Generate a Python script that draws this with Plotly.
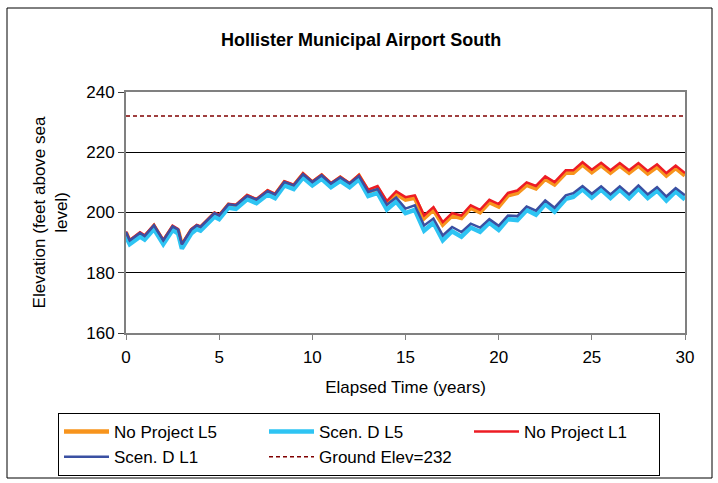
import plotly.graph_objects as go

# ---------------- data ----------------
time_years = [0, 0.2, 0.75, 1.0, 1.5, 2.0, 2.5, 2.8, 3.0, 3.5, 3.8, 4.0, 4.75,
              5.0, 5.5, 5.9, 6.5, 7.0, 7.6, 8.0, 8.5, 9.0, 9.5, 10.0, 10.5, 11.0, 11.5,
              12.0, 12.5, 13.0, 13.5, 14.0, 14.5, 15.0, 15.5, 16.0, 16.5, 17.0, 17.5,
              18.0, 18.5, 19.0, 19.5, 20.0, 20.5, 21.0, 21.5, 22.0, 22.5, 23.0,
              23.6, 24.0, 24.5, 25.0, 25.5, 26.0, 26.5, 27.0, 27.5, 28.0, 28.5, 29.0,
              29.5, 30.0]

no_project_l5 = [193.2, 190.3, 192.9, 191.8, 195.4, 190.3, 195.0, 193.9, 189.0, 194.0, 195.4, 194.9, 199.6,
                 198.7, 202.5, 202.1, 205.4, 204.0, 207.0, 205.8, 210.0, 208.8, 212.6, 209.9, 212.2, 209.3, 211.5,
                 209.3, 212.1, 206.9, 208.0, 203.0, 206.2, 204.3, 204.9, 198.2, 201.0, 196.0, 199.0,
                 198.2, 201.6, 200.1, 203.4, 202.0, 205.7, 206.5, 209.2, 208.0, 211.2, 209.3,
                 213.2, 213.2, 215.9, 213.4, 215.7, 213.2, 215.6, 213.2, 215.6, 213.0, 215.2, 212.3,
                 214.8, 212.3]

scen_d_l5 = [192.0, 189.5, 192.0, 191.0, 194.5, 189.5, 194.2, 193.0, 188.0, 193.0, 194.5, 194.0, 198.6,
             197.8, 201.6, 201.2, 204.4, 203.1, 206.0, 204.8, 209.0, 207.8, 211.6, 209.0, 211.2, 208.4, 210.5,
             208.4, 211.0, 205.5, 206.5, 201.0, 203.6, 199.8, 200.9, 194.0, 196.6, 190.8, 193.8,
             192.0, 195.0, 193.6, 196.6, 194.2, 197.8, 197.5, 200.8, 199.3, 202.8, 200.3,
             204.5, 205.2, 207.7, 205.0, 207.6, 204.8, 207.6, 204.8, 207.9, 204.8, 207.3, 204.0,
             207.0, 204.3]

no_project_l1 = [193.7, 190.9, 193.4, 192.4, 195.9, 190.9, 195.6, 194.5, 189.6, 194.5, 195.9, 195.4, 200.0,
                 199.2, 202.9, 202.6, 205.8, 204.5, 207.4, 206.2, 210.4, 209.2, 213.0, 210.3, 212.6, 209.8, 211.9,
                 209.8, 212.5, 207.6, 208.8, 203.8, 207.0, 205.1, 205.7, 199.0, 201.8, 196.8, 199.8,
                 199.0, 202.4, 200.9, 204.2, 202.8, 206.5, 207.3, 210.0, 208.8, 212.0, 210.1,
                 214.0, 214.0, 216.7, 214.2, 216.5, 214.0, 216.4, 214.0, 216.4, 213.8, 216.0, 213.1,
                 215.6, 213.1]

scen_d_l1 = [193.5, 190.7, 193.2, 192.2, 195.7, 190.7, 195.4, 194.3, 189.4, 194.3, 195.7, 195.2, 199.8,
             199.0, 202.7, 202.4, 205.5, 204.3, 207.1, 206.0, 210.1, 209.0, 212.7, 210.1, 212.3, 209.6, 211.6,
             209.6, 212.1, 206.8, 207.8, 202.6, 205.0, 201.3, 202.4, 195.7, 198.0, 192.4, 195.2,
             193.5, 196.3, 195.0, 197.8, 195.6, 199.0, 198.8, 202.0, 200.6, 204.0, 201.6,
             205.7, 206.4, 208.8, 206.2, 208.7, 206.0, 208.7, 206.0, 209.0, 206.0, 208.4, 205.3,
             208.1, 205.7]

ground_time = [0, 30]
ground_elev = [232, 232]

series_names = ["No Project L5", "Scen. D L5", "No Project L1", "Scen. D L1", "Ground Elev=232"]
x_ticks = [0, 5, 10, 15, 20, 25, 30]
y_ticks = [160, 180, 200, 220, 240]

for s in (no_project_l5, scen_d_l5, no_project_l1, scen_d_l1):
    assert len(s) == len(time_years)

# ---------------- figure ----------------
W, H = 718, 483
ML, MR, MT, MB = 126, 33, 92, 150
FONT = "Liberation Sans, Arial, sans-serif"
FS = 17

fig = go.Figure()
fig.add_trace(go.Scatter(x=time_years, y=no_project_l5, mode="lines", name=series_names[0],
                         line=dict(color="#F7941D", width=4.5)))
fig.add_trace(go.Scatter(x=time_years, y=scen_d_l5, mode="lines", name=series_names[1],
                         line=dict(color="#2EC4F3", width=4.5)))
fig.add_trace(go.Scatter(x=time_years, y=no_project_l1, mode="lines", name=series_names[2],
                         line=dict(color="#ED1C24", width=2.5), legendwidth=130))
fig.add_trace(go.Scatter(x=time_years, y=scen_d_l1, mode="lines", name=series_names[3],
                         line=dict(color="#3A50A2", width=2.5)))
fig.add_trace(go.Scatter(x=ground_time, y=ground_elev, mode="lines", name=series_names[4],
                         line=dict(color="#800000", width=1.5, dash="4px,3px")))

pw = W - ML - MR
ph = H - MT - MB

def px_x(p):
    return (p - ML) / pw

def px_y(p):
    return (H - MB - p) / ph

shapes = [
    # outer frame
    dict(type="rect", xref="paper", yref="paper",
         x0=px_x(7), x1=px_x(712), y0=px_y(478), y1=px_y(8),
         line=dict(color="black", width=1), fillcolor="rgba(0,0,0,0)", layer="below"),
]

fig.update_layout(
    width=W, height=H,
    margin=dict(l=ML, r=MR, t=MT, b=MB, autoexpand=False),
    paper_bgcolor="white", plot_bgcolor="white",
    font=dict(family=FONT, size=FS, color="black"),
    title=dict(text="<b>Hollister Municipal Airport South</b>", x=0.503, xanchor="center",
               y=1 - 40 / H, yanchor="middle", font=dict(size=18, family=FONT)),
    showlegend=True,
    legend=dict(orientation="h", x=px_x(58), xanchor="left", y=px_y(413), yanchor="top",
                bordercolor="black", borderwidth=1, bgcolor="white",
                entrywidth=145, entrywidthmode="pixels", tracegroupgap=0,
                font=dict(size=FS, family=FONT), itemwidth=45, traceorder="normal"),
    shapes=shapes,
)

fig.update_xaxes(range=[0, 30], tickvals=x_ticks, ticktext=[str(v) for v in x_ticks],
                 showgrid=False, zeroline=False,
                 showline=True, linecolor="#808080", linewidth=2, mirror=True,
                 ticks="outside", ticklen=5, tickcolor="#808080", ticklabelstandoff=3,
                 title=dict(text="Elapsed Time (years)", standoff=15, font=dict(size=FS)),
                 tickfont=dict(size=FS))
fig.update_yaxes(range=[160, 240], tickvals=y_ticks, ticktext=[str(v) for v in y_ticks],
                 showgrid=True, gridcolor="black", gridwidth=1, zeroline=False,
                 showline=True, linecolor="#808080", linewidth=2, mirror=True,
                 ticks="outside", ticklen=6, tickcolor="#404040",
                 title=dict(text="Elevation (feet above sea<br>level)", standoff=14, font=dict(size=FS)),
                 tickfont=dict(size=FS))

fig.write_html("out.html", config={"displayModeBar": False},
               post_script="document.body.style.margin='0px';")
